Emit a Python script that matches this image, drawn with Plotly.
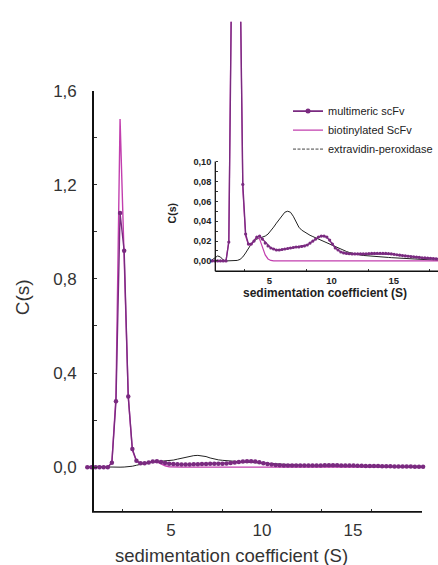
import plotly.graph_objects as go

# ---------------- data ----------------
s_values = [0.400, 0.625, 0.850, 1.075, 1.300, 1.525, 1.750, 1.975, 2.200, 2.425,
            2.650, 2.875, 3.100, 3.325, 3.550, 3.775, 4.000, 4.225, 4.450, 4.675,
            4.900, 5.125, 5.350, 5.575, 5.800, 6.025, 6.250, 6.475, 6.700, 6.925,
            7.150, 7.375, 7.600, 7.825, 8.050, 8.275, 8.500, 8.725, 8.950, 9.175,
            9.400, 9.625, 9.850, 10.075, 10.300, 10.525, 10.750, 10.975, 11.200, 11.425,
            11.650, 11.875, 12.100, 12.325, 12.550, 12.775, 13.000, 13.225, 13.450, 13.675,
            13.900, 14.125, 14.350, 14.575, 14.800, 15.025, 15.250, 15.475, 15.700, 15.925,
            16.150, 16.375, 16.600, 16.825, 17.050, 17.275, 17.500, 17.725, 17.950, 18.175,
            18.400, 18.625, 18.850]

multimeric_scfv = [0, 0, 0, 0, 0, 0, 0.019, 0.28, 1.08, 0.92,
                   0.30, 0.077, 0.027, 0.017, 0.017, 0.020, 0.024, 0.025, 0.022, 0.018,
                   0.015, 0.013, 0.012, 0.011, 0.011, 0.0115, 0.012, 0.0125, 0.013, 0.0135,
                   0.014, 0.014, 0.0145, 0.015, 0.016, 0.018, 0.020, 0.022, 0.024, 0.025,
                   0.025, 0.024, 0.021, 0.017, 0.013, 0.011, 0.009, 0.008, 0.0075, 0.0072,
                   0.007, 0.007, 0.007, 0.007, 0.007, 0.0072, 0.0074, 0.0075, 0.0076, 0.0077,
                   0.0077, 0.0076, 0.0075, 0.0073, 0.007, 0.0066, 0.0062, 0.0058, 0.0054, 0.005,
                   0.0047, 0.0044, 0.0041, 0.0038, 0.0035, 0.0032, 0.003, 0.0028, 0.0026, 0.0024,
                   0.0022, 0.002, 0.0019]

biotinylated_scfv = [0, 0, 0, 0, 0, 0, 0.02, 0.30, 1.48, 0.90,
                     0.30, 0.072, 0.025, 0.016, 0.016, 0.020, 0.024, 0.022, 0.014, 0.006,
                     0.002, 0.0005, 0, 0, 0, 0, 0, 0, 0, 0,
                     0, 0, 0, 0, 0, 0, 0, 0, 0, 0,
                     0, 0, 0, 0, 0, 0, 0, 0, 0, 0,
                     0, 0, 0, 0, 0, 0, 0, 0, 0, 0,
                     0, 0, 0, 0, 0, 0, 0, 0, 0, 0,
                     0, 0, 0, 0, 0, 0, 0, 0, 0, 0,
                     0, 0, 0]

extravidin_peroxidase = [0.001, 0.003, 0.005, 0.004, 0.001, 0, 0, 0, 0, 0.0005,
                         0.0015, 0.004, 0.008, 0.013, 0.017, 0.020, 0.022, 0.023, 0.024, 0.025,
                         0.027, 0.030, 0.034, 0.038, 0.042, 0.046, 0.049, 0.050, 0.049, 0.045,
                         0.039, 0.034, 0.031, 0.029, 0.027, 0.0258, 0.0245, 0.0232, 0.022, 0.021,
                         0.020, 0.0187, 0.0173, 0.016, 0.0147, 0.0133, 0.012, 0.0107, 0.0095, 0.0085,
                         0.0077, 0.007, 0.0064, 0.0059, 0.0055, 0.0052, 0.0049, 0.0047, 0.0045, 0.0043,
                         0.0041, 0.0039, 0.0037, 0.0035, 0.0033, 0.0031, 0.0028, 0.0026, 0.0024, 0.0022,
                         0.0020, 0.0019, 0.0017, 0.0015, 0.0013, 0.0012, 0.0010, 0.0009, 0.0008, 0.0007,
                         0.0006, 0.0005, 0.0004]

main_y_ticks = [0.0, 0.2, 0.4, 0.6, 0.8, 1.0, 1.2, 1.4, 1.6]
main_y_labels = ["0,0", "", "0,4", "", "0,8", "", "1,2", "", "1,6"]
main_x_ticks = [5, 10, 15]
main_x_marks = [2.36, 5.09, 7.81, 10.54, 13.26, 15.99]
inset_y_ticks = [0.0, 0.01, 0.02, 0.03, 0.04, 0.05, 0.06, 0.07, 0.08, 0.09, 0.10]
inset_y_labels = ["0,00", "", "0,02", "", "0,04", "", "0,06", "", "0,08", "", "0,10"]
inset_x_ticks = [5, 10, 15]
inset_x_marks = [2.97, 7.95, 12.93, 17.9]

# ---------------- style ----------------
W, H = 438, 565
PURPLE = "#7A2A80"
MAGENTA = "#C23FAE"
BLACK = "#222222"
FONT = "Liberation Sans, Arial, sans-serif"

def px(x):
    return x / W

def py(y):
    return 1 - y / H

fig = go.Figure()

# main traces
fig.add_trace(go.Scatter(x=s_values, y=extravidin_peroxidase, mode="lines",
                         line=dict(color=BLACK, width=1), showlegend=False,
                         xaxis="x", yaxis="y"))
fig.add_trace(go.Scatter(x=s_values, y=biotinylated_scfv, mode="lines",
                         line=dict(color=MAGENTA, width=1.4), showlegend=False,
                         xaxis="x", yaxis="y"))
fig.add_trace(go.Scatter(x=s_values, y=multimeric_scfv, mode="lines+markers",
                         line=dict(color=PURPLE, width=1.4),
                         marker=dict(color=PURPLE, size=4.5), cliponaxis=False,
                         showlegend=False, xaxis="x", yaxis="y"))

# inset traces
fig.add_trace(go.Scatter(x=s_values, y=extravidin_peroxidase, mode="lines",
                         line=dict(color=BLACK, width=1), showlegend=False,
                         xaxis="x2", yaxis="y2"))
fig.add_trace(go.Scatter(x=s_values, y=biotinylated_scfv, mode="lines",
                         line=dict(color=MAGENTA, width=1.2),
                         showlegend=False, xaxis="x2", yaxis="y2"))
fig.add_trace(go.Scatter(x=s_values, y=multimeric_scfv, mode="lines+markers",
                         line=dict(color=PURPLE, width=1.4),
                         marker=dict(color=PURPLE, size=3.2),
                         showlegend=False, xaxis="x2", yaxis="y2"))

# legend entries
fig.add_trace(go.Scatter(x=[None], y=[None], mode="lines+markers", name="multimeric scFv",
                         line=dict(color=PURPLE, width=1.6), marker=dict(color=PURPLE, size=5),
                         xaxis="x2", yaxis="y2"))
fig.add_trace(go.Scatter(x=[None], y=[None], mode="lines", name="biotinylated ScFv",
                         line=dict(color=MAGENTA, width=1.4), xaxis="x2", yaxis="y2"))
fig.add_trace(go.Scatter(x=[None], y=[None], mode="lines", name="extravidin-peroxidase",
                         line=dict(color="#444444", width=1, dash="3px,1.5px"),
                         xaxis="x2", yaxis="y2"))

# main axes geometry (pixel mapping: px = 87.3 + (x-0.4)*18.2)
mx0 = 0.4 - (87.3 - 80) / 18.2
mx1 = 0.4 + (430 - 87.3) / 18.2
# inset mapping: px = 212 + (x-0.4)*12.45
ix0 = 0.4 + (205 - 212) / 12.45
ix1 = 0.4 + (438 - 212) / 12.45

fig.update_layout(
    width=W, height=H,
    margin=dict(l=0, r=0, t=0, b=0),
    paper_bgcolor="white", plot_bgcolor="rgba(0,0,0,0)",
    font=dict(family=FONT, color="#222222"),
    xaxis=dict(domain=[px(80), px(430)], range=[mx0, mx1], anchor="y",
               showgrid=False, zeroline=False, showline=False,
               tickmode="array", tickvals=main_x_ticks, ticks="",
               tickfont=dict(size=17, color="#333333"), ticklabelstandoff=6,
               minor=dict(tickmode="array", tickvals=main_x_marks, ticks="inside",
                          ticklen=3, tickwidth=1, tickcolor="#333333", showgrid=False)),
    yaxis=dict(domain=[py(511), py(83)], range=[-0.19, 1.6], anchor="free",
               position=px(93), showgrid=False, zeroline=False,
               showline=True, linecolor="#111111", linewidth=1.6,
               tickmode="array", tickvals=main_y_ticks, ticktext=main_y_labels,
               ticks="inside", ticklen=3, tickwidth=1, tickcolor="#333333",
               tickfont=dict(size=17, color="#333333"), ticklabelstandoff=12),
    xaxis2=dict(domain=[px(205), 1.0], range=[ix0, ix1], anchor="y2",
                showgrid=False, zeroline=False, showline=False,
                tickmode="array", tickvals=inset_x_ticks, ticks="",
                tickfont=dict(size=9.5, color="#222222", family=FONT, weight="bold"),
                ticklabelstandoff=3,
                minor=dict(tickmode="array", tickvals=inset_x_marks, ticks="inside",
                           ticklen=2, tickwidth=1, tickcolor="#333333", showgrid=False)),
    yaxis2=dict(domain=[py(266), py(13)], range=[-0.0099, 0.2406], anchor="free",
                position=px(215.3), showgrid=False, zeroline=False, showline=False,
                tickmode="array", tickvals=inset_y_ticks, ticktext=inset_y_labels,
                ticks="inside", ticklen=2, tickwidth=1, tickcolor="#333333",
                tickfont=dict(size=9.2, color="#222222", family=FONT, weight="bold"),
                ticklabelstandoff=4),
    legend=dict(x=px(288), y=py(89), xanchor="left", yanchor="top",
                bgcolor="rgba(0,0,0,0)", font=dict(size=11, color="#222222"),
                tracegroupgap=0, itemwidth=30),
    shapes=[
        # main x axis line
        dict(type="line", xref="paper", yref="paper", x0=px(92), x1=px(422),
             y0=py(511), y1=py(511), line=dict(color="#111111", width=1.6)),
        # inset y axis line (0 .. 0.10 only)
        dict(type="line", xref="paper", yref="paper", x0=px(215.3), x1=px(215.3),
             y0=py(266.5), y1=py(155), line=dict(color="#111111", width=1.3)),
        # inset x axis line
        dict(type="line", xref="paper", yref="paper", x0=px(215.3), x1=1.0,
             y0=py(266.5), y1=py(266.5), line=dict(color="#111111", width=1.3)),
    ],
    annotations=[
        dict(text="C(s)", xref="paper", yref="paper", x=px(22), y=py(293),
             showarrow=False, textangle=-90, font=dict(size=19, color="#333333"),
             xanchor="center", yanchor="middle"),
        dict(text="sedimentation coefficient (S)", xref="paper", yref="paper",
             x=px(231), y=py(555), showarrow=False,
             font=dict(size=18.5, color="#333333"), xanchor="center", yanchor="middle"),
        dict(text="C(s)", xref="paper", yref="paper", x=px(171.7), y=py(208),
             showarrow=False, textangle=-90,
             font=dict(size=10.5, color="#222222", weight="bold"),
             xanchor="center", yanchor="middle"),
        dict(text="sedimentation coefficient (S)", xref="paper", yref="paper",
             x=px(324.5), y=py(289), showarrow=False,
             font=dict(size=12, color="#222222", weight="bold"),
             xanchor="center", yanchor="middle"),
    ],
)

fig.write_html("out.html")
